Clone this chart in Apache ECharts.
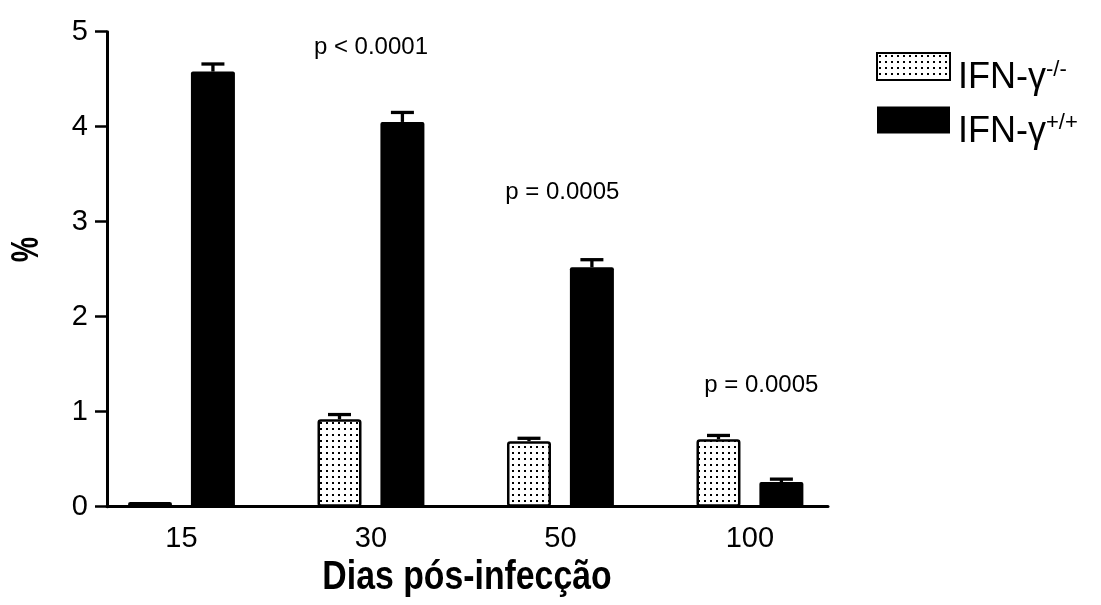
<!DOCTYPE html>
<html>
<head>
<meta charset="utf-8">
<script src="https://cdn.jsdelivr.net/npm/echarts@6/dist/echarts.min.js"></script>
<style>
  html, body { margin: 0; padding: 0; background: #fff; }
  #chart { width: 1101px; height: 605px; }
</style>
</head>
<body>
<div id="chart"></div>
<script>
// Days after infection (x categories)
const categories = ['15', '30', '50', '100'];
// IFN-γ knockout mice: mean % and top of the error bar
const knockoutMean  = [0.05, 0.92, 0.69, 0.71];
const knockoutUpper = [0.05, 0.97, 0.72, 0.75];
// Wild-type mice: mean % and top of the error bar
const wildMean  = [4.58, 4.05, 2.52, 0.26];
const wildUpper = [4.66, 4.15, 2.60, 0.29];
// Significance annotations: text, group index, height on the % scale
const pTexts   = ['p < 0.0001', 'p = 0.0005', 'p = 0.0005'];
const pGroups  = [1, 2, 3];
const pHeights = [4.83, 3.31, 1.28];
// Y axis ticks
const yTicks = [0, 1, 2, 3, 4, 5];

const seriesNames = ['IFN-γ-/-', 'IFN-γ+/+'];
const xTitle = 'Dias pós-infecção';
const yTitle = '%';

// Layout constants (in category units along the x value axis)
const PAIR_OFFSET = 0.166;
const P_SHIFT = [0, 0.01, 0.06];
const FONT = '"Liberation Sans", Arial, Helvetica, sans-serif';

// Stippled fill used for the knockout bars
function makeDots() {
  const c = document.createElement('canvas');
  c.width = 6; c.height = 6;
  const ctx = c.getContext('2d');
  ctx.fillStyle = '#fff';
  ctx.fillRect(0, 0, 6, 6);
  ctx.fillStyle = '#000';
  ctx.fillRect(2, 2, 2, 2);
  return c;
}
const dots = { image: makeDots(), repeat: 'repeat' };

const koData = categories.map((c, i) => [i - PAIR_OFFSET, knockoutMean[i]]);
const wtData = categories.map((c, i) => [i + PAIR_OFFSET, wildMean[i]]);
const errData = [];
categories.forEach((c, i) => {
  errData.push([i - PAIR_OFFSET, knockoutMean[i], knockoutUpper[i]]);
  errData.push([i + PAIR_OFFSET, wildMean[i], wildUpper[i]]);
});
const pData = pTexts.map((t, k) => [pGroups[k] + P_SHIFT[k], pHeights[k], t]);

const chart = echarts.init(document.getElementById('chart'), null, { renderer: 'canvas' });

chart.setOption({
  animation: false,
  backgroundColor: '#fff',
  textStyle: { fontFamily: FONT, color: '#000' },
  grid: { left: 107, top: 31.7, width: 721, height: 475, containLabel: false },
  legend: {
    orient: 'vertical',
    left: 871,
    top: 47,
    itemWidth: 73,
    itemHeight: 27,
    itemGap: 10,
    icon: 'rect',
    data: seriesNames,
    formatter: n => '{b|IFN-γ}{s|' + n.slice(5) + '}',
    textStyle: {
      padding: [24, 0, 0, 3],
      rich: {
        b: { fontSize: 36, lineHeight: 40, fontFamily: FONT, color: '#000' },
        s: { fontSize: 22, lineHeight: 22, verticalAlign: 'top', fontFamily: FONT, color: '#000' }
      }
    }
  },
  xAxis: {
    type: 'value',
    min: -0.393,
    max: 3.412,
    splitLine: { show: false },
    axisTick: { show: false },
    axisLine: { show: true, lineStyle: { color: '#000', width: 3 } },
    axisLabel: {
      customValues: [0, 1, 2, 3],
      fontSize: 29,
      margin: 18,
      color: '#000',
      formatter: v => (Number.isInteger(v) && categories[v] !== undefined) ? categories[v] : ''
    }
  },
  yAxis: {
    type: 'value',
    min: yTicks[0],
    max: yTicks[yTicks.length - 1],
    interval: 1,
    splitLine: { show: false },
    axisLine: { show: true, onZero: false, lineStyle: { color: '#000', width: 3 } },
    axisTick: { show: true, length: 12, lineStyle: { color: '#000', width: 2.5 } },
    axisLabel: { fontSize: 29, margin: 19, color: '#000' }
  },
  graphic: [
    {
      // y axis title, condensed bold, reading bottom to top
      type: 'text',
      x: 27.5,
      y: 249.5,
      rotation: Math.PI / 2,
      scaleX: 0.75,
      style: {
        text: yTitle,
        font: 'bold 38px ' + FONT,
        fill: '#000',
        align: 'center',
        verticalAlign: 'middle'
      }
    },
    {
      // x axis title, condensed bold
      type: 'text',
      x: 467,
      y: 578,
      scaleX: 0.845,
      style: {
        text: xTitle,
        font: 'bold 40px ' + FONT,
        fill: '#000',
        align: 'center',
        verticalAlign: 'middle'
      }
    }
  ],
  series: [
    {
      name: seriesNames[0],
      type: 'bar',
      data: koData,
      barWidth: 44,
      barGap: '-100%',
      itemStyle: { color: dots, borderColor: '#000', borderWidth: 2.5, borderRadius: 2 },
      z: 2
    },
    {
      name: seriesNames[1],
      type: 'bar',
      data: wtData,
      barWidth: 44,
      barGap: '-100%',
      itemStyle: { color: '#000', borderColor: '#000', borderWidth: 0, borderRadius: 2 },
      z: 2
    },
    {
      name: 'err',
      type: 'custom',
      data: errData,
      encode: { x: 0, y: [1, 2] },
      z: 3,
      renderItem: (params, api) => {
        const x = api.value(0);
        const top = api.coord([x, api.value(1)]);
        const up = api.coord([x, api.value(2)]);
        if (top[1] - up[1] < 1) return null;
        const style = { stroke: '#000', lineWidth: 3.3 };
        return {
          type: 'group',
          children: [
            { type: 'line', shape: { x1: top[0], y1: top[1], x2: up[0], y2: up[1] }, style },
            { type: 'line', shape: { x1: up[0] - 11.5, y1: up[1], x2: up[0] + 11.5, y2: up[1] }, style }
          ]
        };
      }
    },
    {
      name: 'p',
      type: 'custom',
      data: pData,
      encode: { x: 0, y: 1 },
      z: 4,
      renderItem: (params, api) => {
        const pt = api.coord([api.value(0), api.value(1)]);
        return {
          type: 'text',
          x: pt[0],
          y: pt[1],
          style: {
            text: pTexts[params.dataIndex],
            font: '24px ' + FONT,
            fill: '#000',
            align: 'center',
            verticalAlign: 'middle'
          }
        };
      }
    }
  ]
});
</script>
</body>
</html>
